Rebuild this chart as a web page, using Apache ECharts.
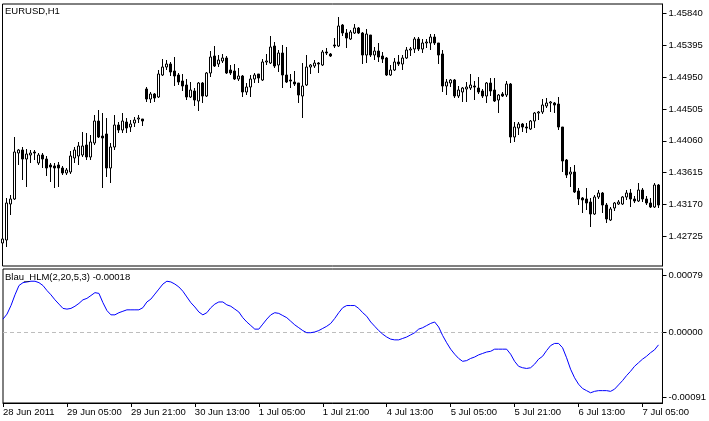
<!DOCTYPE html>
<html><head><meta charset="utf-8">
<script src="https://cdn.jsdelivr.net/npm/echarts@6/dist/echarts.min.js"></script>
<style>html,body{margin:0;padding:0;background:#fff}#c{width:709px;height:421px}</style>
</head><body><div id="c"></div>
<script>
const symbolTitle = 'EURUSD,H1';
const indicatorTitle = 'Blau_HLM(2,20,5,3) -0.00018';
const timeTickLabels = ['28 Jun 2011','29 Jun 05:00','29 Jun 21:00','30 Jun 13:00','1 Jul 05:00','1 Jul 21:00','4 Jul 13:00','5 Jul 05:00','5 Jul 21:00','6 Jul 13:00','7 Jul 05:00'];
const priceTicks = [1.45840, 1.45395, 1.44950, 1.44505, 1.44060, 1.43615, 1.43170, 1.42725];
const indicatorTicks = [0.00079, 0, -0.00091];

const openPrices = [
1.42630,1.42672,1.43176,1.43246,1.43890,1.43932,1.43806,1.43862,1.43904,1.43750,
1.43862,1.43806,1.43722,1.43708,1.43722,1.43680,1.43610,1.43624,1.43820,1.43848,
1.43862,1.44002,1.43834,1.44030,1.44338,1.44128,1.44156,1.43680,1.43974,1.44282,
1.44212,1.44324,1.44254,1.44310,1.44366,1.44366,1.44786,1.44646,1.44716,1.44674,
1.44982,1.45094,1.45136,1.45038,1.44982,1.44898,1.44842,1.44674,1.44758,1.44618,
1.44870,1.44688,1.45010,1.45248,1.45136,1.45178,1.45220,1.45052,1.45038,1.44926,
1.44968,1.44744,1.44814,1.44926,1.44996,1.44912,1.45164,1.45150,1.45388,1.45122,
1.45290,1.44982,1.44912,1.44884,1.44870,1.44688,1.44842,1.45094,1.45108,1.45150,
1.45122,1.45304,1.45276,1.45402,1.45388,1.45682,1.45570,1.45486,1.45570,1.45640,
1.45570,1.45262,1.45542,1.45262,1.45318,1.45248,1.45220,1.44982,1.45052,1.45164,
1.45136,1.45220,1.45332,1.45346,1.45486,1.45346,1.45430,1.45430,1.45514,1.45430,
1.45276,1.44828,1.44870,1.44912,1.44688,1.44744,1.44786,1.44800,1.44828,1.44800,
1.44758,1.44688,1.44870,1.44772,1.44632,1.44716,1.44702,1.44856,1.44114,1.44240,
1.44296,1.44254,1.44226,1.44338,1.44450,1.44464,1.44548,1.44590,1.44590,1.44576,
1.44254,1.43792,1.43596,1.43624,1.43358,1.43260,1.43246,1.43204,1.43036,1.43274,
1.43330,1.43162,1.42952,1.43120,1.43176,1.43176,1.43274,1.43330,1.43246,1.43218,
1.43372,1.43246,1.43190,1.43134,1.43442];

const closePrices = [
1.42686,1.43190,1.43246,1.43904,1.43932,1.43806,1.43876,1.43890,1.43890,1.43862,
1.43806,1.43680,1.43694,1.43680,1.43680,1.43610,1.43652,1.43848,1.43932,1.43988,
1.43988,1.43834,1.44044,1.44338,1.44114,1.44100,1.43680,1.43974,1.44282,1.44212,
1.44338,1.44240,1.44296,1.44352,1.44380,1.44338,1.44646,1.44716,1.44660,1.44996,
1.45094,1.45136,1.45024,1.44968,1.44884,1.44828,1.44674,1.44772,1.44632,1.44870,
1.44688,1.45010,1.45234,1.45108,1.45192,1.45220,1.45010,1.45010,1.44926,1.44968,
1.44744,1.44814,1.44926,1.44982,1.44940,1.45164,1.45178,1.45374,1.45108,1.45290,
1.44982,1.44884,1.44898,1.44856,1.44702,1.44828,1.45094,1.45122,1.45150,1.45136,
1.45304,1.45290,1.45248,1.45388,1.45668,1.45570,1.45500,1.45584,1.45640,1.45570,
1.45262,1.45556,1.45262,1.45318,1.45234,1.45206,1.44982,1.45052,1.45164,1.45136,
1.45220,1.45332,1.45346,1.45486,1.45346,1.45430,1.45444,1.45514,1.45430,1.45262,
1.44828,1.44884,1.44912,1.44688,1.44772,1.44800,1.44814,1.44842,1.44814,1.44744,
1.44688,1.44870,1.44758,1.44618,1.44702,1.44688,1.44856,1.44114,1.44254,1.44296,
1.44254,1.44240,1.44338,1.44450,1.44464,1.44562,1.44590,1.44604,1.44562,1.44254,
1.43778,1.43582,1.43624,1.43344,1.43246,1.43232,1.43190,1.43036,1.43274,1.43330,
1.43162,1.42966,1.43106,1.43190,1.43204,1.43274,1.43330,1.43246,1.43218,1.43372,
1.43246,1.43190,1.43134,1.43442,1.43162];

const lowPrices = [
1.42574,1.42574,1.43022,1.43232,1.43722,1.43512,1.43414,1.43750,1.43792,1.43722,
1.43680,1.43568,1.43484,1.43400,1.43414,1.43582,1.43582,1.43596,1.43750,1.43722,
1.43834,1.43792,1.43792,1.44002,1.44100,1.43400,1.43554,1.43470,1.43932,1.44170,
1.44170,1.44170,1.44184,1.44254,1.44310,1.44268,1.44604,1.44590,1.44604,1.44660,
1.44968,1.45052,1.44968,1.44828,1.44842,1.44758,1.44632,1.44660,1.44548,1.44478,
1.44590,1.44674,1.44954,1.45094,1.45094,1.45150,1.44996,1.44982,1.44912,1.44898,
1.44674,1.44702,1.44674,1.44870,1.44870,1.44898,1.45122,1.45136,1.45080,1.45024,
1.44800,1.44870,1.44800,1.44828,1.44590,1.44380,1.44828,1.44996,1.45080,1.45010,
1.45108,1.45262,1.45234,1.45360,1.45374,1.45528,1.45360,1.45472,1.45556,1.45556,
1.45136,1.45150,1.45234,1.45192,1.45164,1.45150,1.44968,1.44968,1.45038,1.45108,
1.45052,1.45206,1.45248,1.45290,1.45318,1.45290,1.45360,1.45332,1.45402,1.45136,
1.44744,1.44702,1.44814,1.44660,1.44660,1.44604,1.44604,1.44772,1.44632,1.44716,
1.44660,1.44590,1.44688,1.44604,1.44450,1.44674,1.44674,1.44030,1.44044,1.44142,
1.44184,1.44170,1.44212,1.44240,1.44352,1.44436,1.44520,1.44464,1.44450,1.44212,
1.43624,1.43540,1.43414,1.43330,1.43162,1.43050,1.43092,1.42854,1.43022,1.43246,
1.43050,1.42910,1.42938,1.43078,1.43162,1.43162,1.43232,1.43134,1.43190,1.43204,
1.43204,1.43162,1.43120,1.43120,1.43120];

const highPrices = [
1.42728,1.43260,1.43302,1.44114,1.43946,1.43974,1.43946,1.43932,1.43932,1.43890,
1.43890,1.43848,1.43750,1.43750,1.43764,1.43708,1.43680,1.43918,1.43974,1.44044,
1.44184,1.44170,1.44142,1.44422,1.44492,1.44450,1.44380,1.44030,1.44422,1.44324,
1.44450,1.44380,1.44352,1.44394,1.44422,1.44366,1.44814,1.44744,1.44730,1.45052,
1.45206,1.45192,1.45164,1.45234,1.45010,1.44996,1.44926,1.44884,1.44800,1.44884,
1.44884,1.45024,1.45318,1.45388,1.45262,1.45276,1.45248,1.45122,1.45136,1.45080,
1.44982,1.44870,1.44982,1.45010,1.44996,1.45206,1.45276,1.45528,1.45444,1.45332,
1.45402,1.45374,1.44996,1.45038,1.44870,1.45150,1.45262,1.45136,1.45192,1.45164,
1.45332,1.45360,1.45290,1.45500,1.45794,1.45696,1.45626,1.45612,1.45696,1.45654,
1.45584,1.45626,1.45542,1.45374,1.45430,1.45304,1.45234,1.45122,1.45220,1.45262,
1.45262,1.45374,1.45374,1.45514,1.45514,1.45486,1.45486,1.45556,1.45556,1.45430,
1.45332,1.44926,1.44926,1.44926,1.44828,1.44814,1.44884,1.44996,1.44898,1.44954,
1.44786,1.44884,1.44940,1.44940,1.44716,1.44744,1.44898,1.44870,1.44324,1.44324,
1.44310,1.44310,1.44352,1.44464,1.44478,1.44646,1.44660,1.44618,1.44604,1.44674,
1.44254,1.43806,1.43694,1.43722,1.43400,1.43274,1.43400,1.43260,1.43302,1.43372,
1.43344,1.43190,1.43134,1.43204,1.43232,1.43288,1.43372,1.43386,1.43288,1.43470,
1.43400,1.43288,1.43260,1.43470,1.43456];

const hlmValues = [
0.00018,0.00025,0.00037,0.00052,0.00065,0.00069,0.00070,0.00071,0.00071,0.00069,
0.00065,0.00058,0.00052,0.00045,0.00039,0.00033,0.00032,0.00033,0.00036,0.00040,
0.00045,0.00047,0.00051,0.00055,0.00054,0.00041,0.00030,0.00024,0.00024,0.00027,
0.00029,0.00031,0.00031,0.00031,0.00031,0.00034,0.00042,0.00046,0.00053,0.00060,
0.00067,0.00071,0.00070,0.00067,0.00063,0.00057,0.00049,0.00041,0.00035,0.00028,
0.00024,0.00027,0.00034,0.00039,0.00042,0.00042,0.00038,0.00036,0.00032,0.00028,
0.00020,0.00014,0.00009,0.00004,0.00004,0.00011,0.00018,0.00024,0.00027,0.00026,
0.00023,0.00020,0.00015,0.00010,0.00006,0.00002,-0.00001,-0.00001,0.00000,0.00002,
0.00005,0.00008,0.00012,0.00019,0.00027,0.00034,0.00037,0.00037,0.00037,0.00033,
0.00027,0.00022,0.00014,0.00008,0.00002,-0.00003,-0.00007,-0.00010,-0.00011,-0.00011,
-0.00009,-0.00007,-0.00004,-0.00001,0.00004,0.00006,0.00009,0.00012,0.00014,0.00007,
-0.00005,-0.00015,-0.00024,-0.00031,-0.00037,-0.00041,-0.00040,-0.00037,-0.00035,-0.00032,
-0.00030,-0.00028,-0.00027,-0.00024,-0.00024,-0.00024,-0.00024,-0.00031,-0.00041,-0.00048,
-0.00050,-0.00051,-0.00050,-0.00045,-0.00038,-0.00034,-0.00026,-0.00019,-0.00016,-0.00016,
-0.00022,-0.00036,-0.00052,-0.00064,-0.00073,-0.00079,-0.00082,-0.00085,-0.00083,-0.00082,
-0.00082,-0.00082,-0.00083,-0.00080,-0.00074,-0.00068,-0.00061,-0.00055,-0.00048,-0.00043,
-0.00038,-0.00034,-0.00029,-0.00025,-0.00018];

const FONT = '"Liberation Sans", Arial, sans-serif';
const FS = 9.5;
const slotCount = openPrices.length + 1;
const categories = Array.from({length: slotCount}, (_, i) => String(i));
const candleData = openPrices.map((o, i) => [o, closePrices[i], lowPrices[i], highPrices[i]]);
const everyTick = (idx) => idx % 16 === 0 && idx / 16 < timeTickLabels.length;

const chart = echarts.init(document.getElementById('c'), null, {renderer: 'canvas'});
chart.setOption({
  animation: false,
  backgroundColor: '#ffffff',
  title: [
    {text: symbolTitle, left: 5, top: 6, padding: 0,
     textStyle: {fontSize: FS, fontWeight: 'normal', color: '#000', fontFamily: FONT}},
    {text: indicatorTitle, left: 5, top: 272, padding: 0,
     textStyle: {fontSize: FS, fontWeight: 'normal', color: '#000', fontFamily: FONT}}
  ],
  grid: [
    {left: 2.5, top: 4, width: 660, height: 262, show: true, borderColor: '#000', borderWidth: 1, backgroundColor: '#fff'},
    {left: 2.5, top: 269, width: 660, height: 134, show: true, borderColor: '#000', borderWidth: 1, backgroundColor: '#fff'}
  ],
  xAxis: [
    {gridIndex: 0, type: 'category', boundaryGap: false, data: categories,
     axisLine: {show: false, onZero: false}, axisTick: {show: false}, axisLabel: {show: false}, splitLine: {show: false}},
    {gridIndex: 1, type: 'category', boundaryGap: false, data: categories, position: 'bottom',
     axisLine: {show: true, onZero: false, lineStyle: {color: '#000', width: 1}},
     axisTick: {show: true, interval: everyTick, length: 4, lineStyle: {color: '#000'}},
     axisLabel: {show: true, interval: everyTick, align: 'left', margin: 4, color: '#000',
       fontSize: FS, fontFamily: FONT, formatter: (v, idx) => timeTickLabels[idx / 16]},
     splitLine: {show: false}}
  ],
  yAxis: [
    {gridIndex: 0, type: 'value', position: 'right', min: 1.42308, max: 1.45976, scale: true,
     axisLine: {show: true, onZero: false, lineStyle: {color: '#000'}},
     axisTick: {show: true, inside: false, length: 4, customValues: priceTicks, lineStyle: {color: '#000'}},
     axisLabel: {show: true, customValues: priceTicks, margin: 6, color: '#000', fontSize: FS, fontFamily: FONT,
       formatter: v => v.toFixed(5)},
     splitLine: {show: false}},
    {gridIndex: 1, type: 'value', position: 'right', min: -0.000993, max: 0.000881,
     axisLine: {show: true, onZero: false, lineStyle: {color: '#000'}},
     axisTick: {show: true, inside: false, length: 4, customValues: indicatorTicks, lineStyle: {color: '#000'}},
     axisLabel: {show: true, customValues: indicatorTicks, margin: 6, color: '#000', fontSize: FS, fontFamily: FONT,
       formatter: v => v.toFixed(5)},
     splitLine: {show: false}}
  ],
  series: [
    {type: 'candlestick', xAxisIndex: 0, yAxisIndex: 0, data: candleData, barWidth: 2,
     itemStyle: {color: '#ffffff', color0: '#000000', borderColor: '#000000', borderColor0: '#000000',
       borderColorDoji: '#000000', borderWidth: 1}},
    {type: 'line', xAxisIndex: 1, yAxisIndex: 1, data: hlmValues, symbol: 'none', showSymbol: false,
     z: 3, lineStyle: {color: '#0000ff', width: 1},
     markLine: {silent: true, symbol: 'none', z: 1, label: {show: false},
       lineStyle: {color: '#bdbdbd', type: [4, 3], width: 1},
       emphasis: {disabled: true},
       data: [{yAxis: 0}]}}
  ]
});
</script>
</body></html>
